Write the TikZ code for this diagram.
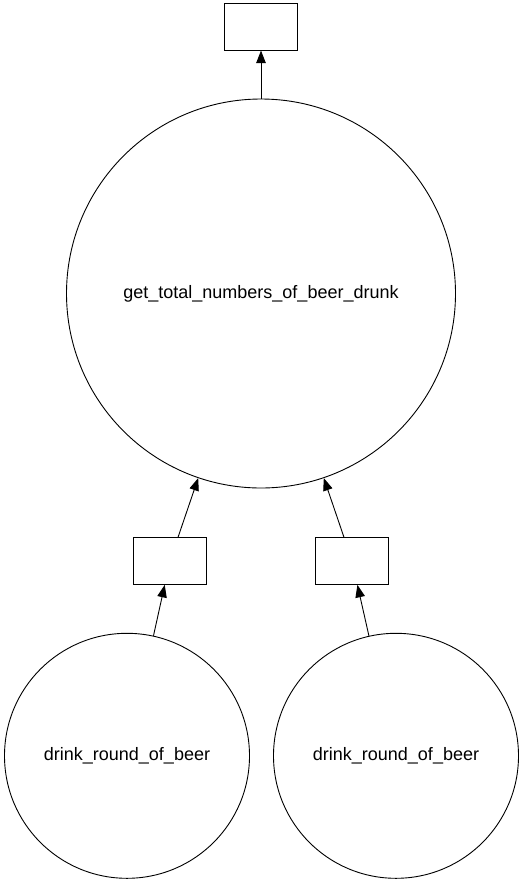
\documentclass[tikz,border=0pt]{standalone}
\usepackage{fontspec}
\setmainfont{Liberation Sans}
\usepackage{tikz}
\usetikzlibrary{positioning}
\usetikzlibrary{arrows.meta}

\tikzset{
  task/.style={circle, draw, line width=0.9pt, inner sep=0pt, font=\fontsize{18}{21}\selectfont},
  datum/.style={rectangle, draw, line width=0.9pt, minimum width=73pt, minimum height=47pt, inner sep=0pt},
  dep/.style={-{Triangle[length=12.5pt,width=9.5pt]}, line width=0.9pt}
}

\begin{document}
\begin{tikzpicture}
    \useasboundingbox (0,0) rectangle (522pt,-887pt);
    \node[task, minimum size=389pt] (total) at (261pt,-293.5pt) {get\_total\_numbers\_of\_beer\_drunk};
    \node[datum, above=48pt of total] (result) {};
    \node[datum, below=48.5pt of total, xshift=-91pt] (roundL) {};
    \node[datum, below=48.5pt of total, xshift=91pt] (roundR) {};
    \node[task, minimum size=245pt, below=48pt of roundL, xshift=-43pt] (drinkL) {drink\_round\_of\_beer};
    \node[task, minimum size=245pt, below=48pt of roundR, xshift=44pt] (drinkR) {drink\_round\_of\_beer};
    \draw[dep] (total) -- (result);
    \draw[dep] (roundL) -- (total);
    \draw[dep] (roundR) -- (total);
    \draw[dep] (drinkL) -- (roundL);
    \draw[dep] (drinkR) -- (roundR);
\end{tikzpicture}
\end{document}
